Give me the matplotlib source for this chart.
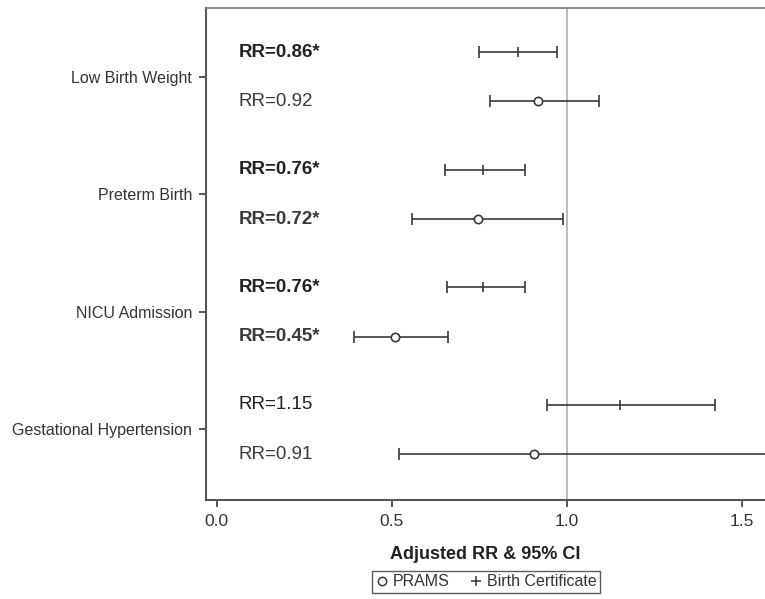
import matplotlib
matplotlib.use("Agg")
import matplotlib.pyplot as plt
from matplotlib.lines import Line2D

plt.rcParams['font.family'] = ['Liberation Sans', 'DejaVu Sans']

outcomes = ["Low Birth Weight", "Preterm Birth", "NICU Admission", "Gestational Hypertension"]

# Birth certificate rows (upper row of each outcome)
bc_rr = [0.86, 0.76, 0.76, 1.15]
bc_lo = [0.748, 0.652, 0.659, 0.942]
bc_hi = [0.972, 0.879, 0.879, 1.421]
bc_text = ["RR=0.86*", "RR=0.76*", "RR=0.76*", "RR=1.15"]
bc_sig = [True, True, True, False]

# PRAMS rows (lower row of each outcome)
pr_rr = [0.918, 0.747, 0.509, 0.907]
pr_lo = [0.781, 0.558, 0.391, 0.521]
pr_hi = [1.090, 0.990, 0.660, 1.75]
pr_text = ["RR=0.92", "RR=0.72*", "RR=0.45*", "RR=0.91"]
pr_sig = [False, True, True, False]

offset = 0.21
ink = "#3a3a3a"

fig = plt.figure(figsize=(7.65, 5.99), dpi=100)
ax = fig.add_axes([206 / 765, 1 - 500 / 599, 1 - 206 / 765, (500 - 8) / 599])

ax.axvline(1.0, color="#a8a8a8", lw=1.1, zorder=1)

for i in range(len(outcomes)):
    yb = i - offset
    yp = i + offset
    ax.errorbar(bc_rr[i], yb, xerr=[[bc_rr[i] - bc_lo[i]], [bc_hi[i] - bc_rr[i]]],
                fmt="|", color=ink, ecolor=ink, elinewidth=1.2, capsize=4.5,
                capthick=1.2, markersize=7, mew=1.2, zorder=3)
    ax.errorbar(pr_rr[i], yp, xerr=[[pr_rr[i] - pr_lo[i]], [pr_hi[i] - pr_rr[i]]],
                fmt="o", color=ink, ecolor=ink, elinewidth=1.2, capsize=4.5,
                capthick=1.2, markersize=6, mfc="white", mec=ink, mew=1.2, zorder=3)
    ax.text(0.063, yb, bc_text[i], ha="left", va="center", fontsize=13.5, color="#222222",
            fontweight="bold" if bc_sig[i] else "normal")
    ax.text(0.063, yp, pr_text[i], ha="left", va="center", fontsize=13.5, color="#3a3a3a",
            fontweight="bold" if pr_sig[i] else "normal")

ax.set_xlim(-0.03, 1.565)
ax.set_ylim(3.6, -0.585)
ax.set_yticks(range(len(outcomes)))
ax.set_yticklabels(outcomes, fontsize=11.5, color="#333333")
ax.set_xticks([0.0, 0.5, 1.0, 1.5])
ax.set_xticklabels(["0.0", "0.5", "1.0", "1.5"], fontsize=12.5, color="#333333")
ax.tick_params(axis="both", direction="out", length=5, width=1.2, color=ink, pad=5)
ax.set_xlabel("Adjusted RR & 95% CI", fontsize=13, fontweight="bold", color="#222222", labelpad=12)

ax.spines["right"].set_visible(False)
ax.spines["left"].set_color("#555555")
ax.spines["bottom"].set_color("#555555")
ax.spines["top"].set_color("#777777")
ax.spines["left"].set_linewidth(1.5)
ax.spines["bottom"].set_linewidth(1.5)
ax.spines["top"].set_linewidth(1.2)

handles = [
    Line2D([], [], ls="none", marker="o", ms=6, mfc="white", mec=ink, mew=1.1, label="PRAMS"),
    Line2D([], [], ls="none", marker="+", ms=7, color=ink, mew=1.1, label="Birth Certificate"),
]
fig.legend(handles=handles, loc="center", bbox_to_anchor=(486 / 765, 1 - 582 / 599), ncol=2,
           fontsize=11.5, frameon=True, fancybox=False, edgecolor="#333333", handlelength=0.8,
           handletextpad=0.3, columnspacing=1.2, borderpad=0.25)
leg = fig.legends[0]
leg.get_frame().set_linewidth(1.0)
for t in leg.get_texts():
    t.set_color("#333333")

fig.savefig("out.png", dpi=100)
